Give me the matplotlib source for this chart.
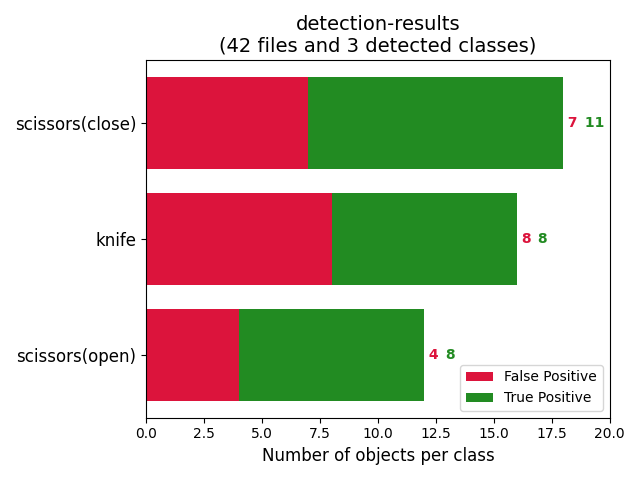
import matplotlib
matplotlib.use("Agg")
import matplotlib.pyplot as plt

classes = ["scissors(open)", "knife", "scissors(close)"]
fp = [4, 8, 7]
tp = [8, 8, 11]

fig, ax = plt.subplots(figsize=(6.4, 4.8), dpi=100)
ax.barh(range(len(classes)), fp, color="crimson", label="False Positive")
ax.barh(range(len(classes)), tp, left=fp, color="forestgreen", label="True Positive")
ax.set_xlim(0, 20)
for i, (f, t) in enumerate(zip(fp, tp)):
    total = f + t
    t1 = ax.text(total, i, " " + str(f), color="crimson", va="center", fontweight="bold")
    fig.canvas.draw()
    bb = t1.get_window_extent().transformed(ax.transData.inverted())
    ax.text(bb.x1 + 0.12, i, " " + str(t), color="forestgreen", va="center", fontweight="bold")
ax.set_yticks(range(len(classes)))
ax.set_yticklabels(classes, fontsize=12)
ax.set_title("detection-results\n(42 files and 3 detected classes)", fontsize=14)
ax.set_xlabel("Number of objects per class", fontsize=12)
ax.legend(loc="lower right")
fig.tight_layout()
fig.savefig("out.png")
